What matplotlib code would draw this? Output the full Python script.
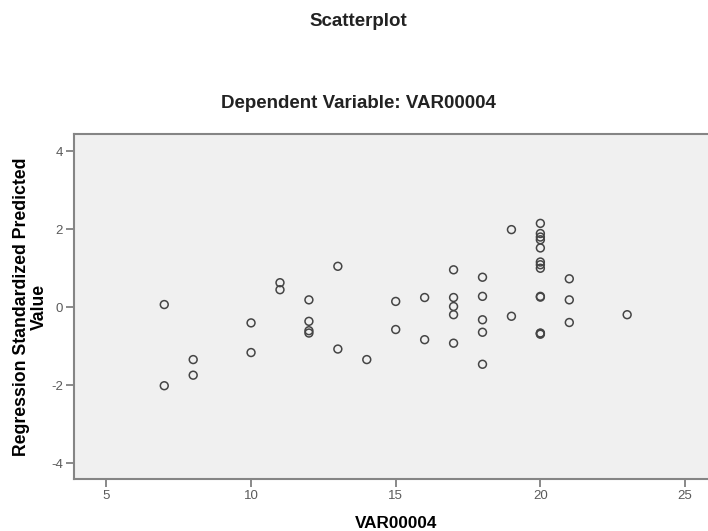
import matplotlib
matplotlib.use("Agg")
import matplotlib.pyplot as plt

plt.rcParams['font.family'] = ['Liberation Sans', 'DejaVu Sans']
plt.rcParams['axes.unicode_minus'] = False

# observed values (x) vs standardized predicted values (y)
var00004 = [7, 7, 8, 8, 10, 10, 11, 11, 12, 12, 12, 12,
            13, 13, 14, 15, 15, 16, 16,
            17, 17, 17, 17, 17,
            18, 18, 18, 18, 18, 19, 19,
            20, 20, 20, 20, 20, 20, 20, 20, 20, 20, 20, 20, 20,
            21, 21, 21, 23]
pred_std = [0.07, -2.01, -1.34, -1.74, -0.40, -1.16, 0.63, 0.45, 0.19, -0.36, -0.60, -0.66,
            1.05, -1.07, -1.34, 0.15, -0.57, 0.25, -0.83,
            0.96, 0.25, 0.02, -0.19, -0.92,
            0.77, 0.28, -0.32, -0.64, -1.46, 1.99, -0.23,
            2.15, 1.89, 1.80, 1.73, 1.52, 1.16, 1.09, 1.00, 0.26, 0.28, -0.67, -0.69, -0.66,
            0.73, 0.19, -0.39, -0.19]

fig = plt.figure(figsize=(7.08, 5.31), dpi=100)
# the plot frame runs a little past the right edge (cropped like the original)
ax = fig.add_axes([74 / 708, 52 / 531, 644 / 708, 345 / 531])
ax.set_facecolor('#f0f0f0')

ax.scatter(var00004, pred_std, s=32, facecolors='none', edgecolors='#454545', linewidths=1.1,
           zorder=3)

ax.set_xlim(3.88, 26.14)
ax.set_ylim(-4.4, 4.44)
ax.set_xticks([5, 10, 15, 20, 25])
ax.set_yticks([-4, -2, 0, 2, 4])

for side in ['top', 'bottom', 'left', 'right']:
    ax.spines[side].set_color('#858585')
    ax.spines[side].set_linewidth(1.5)
ax.tick_params(axis='both', direction='out', length=6, width=1.1, color='#6a6a6a',
               labelcolor='#5a5a5a', labelsize=9.5, pad=2)

ax.set_xlabel('VAR00004', fontsize=12.3, fontweight='bold', va='center')
ax.xaxis.set_label_coords(0.5, -0.128)
ax.set_ylabel('Regression Standardized Predicted\nValue', fontsize=12.7,
              fontweight='bold', linespacing=1.05, va='center')
ax.yaxis.set_label_coords(-0.068, 0.5)

fig.text(358 / 708, 1 - 21 / 531, 'Scatterplot', ha='center', va='center',
         fontsize=13.5, fontweight='bold', color='#222222')
fig.text(358 / 708, 1 - 104 / 531, 'Dependent Variable: VAR00004', ha='center', va='center',
         fontsize=13.5, fontweight='bold', color='#222222')

fig.savefig('out.png', dpi=100)
